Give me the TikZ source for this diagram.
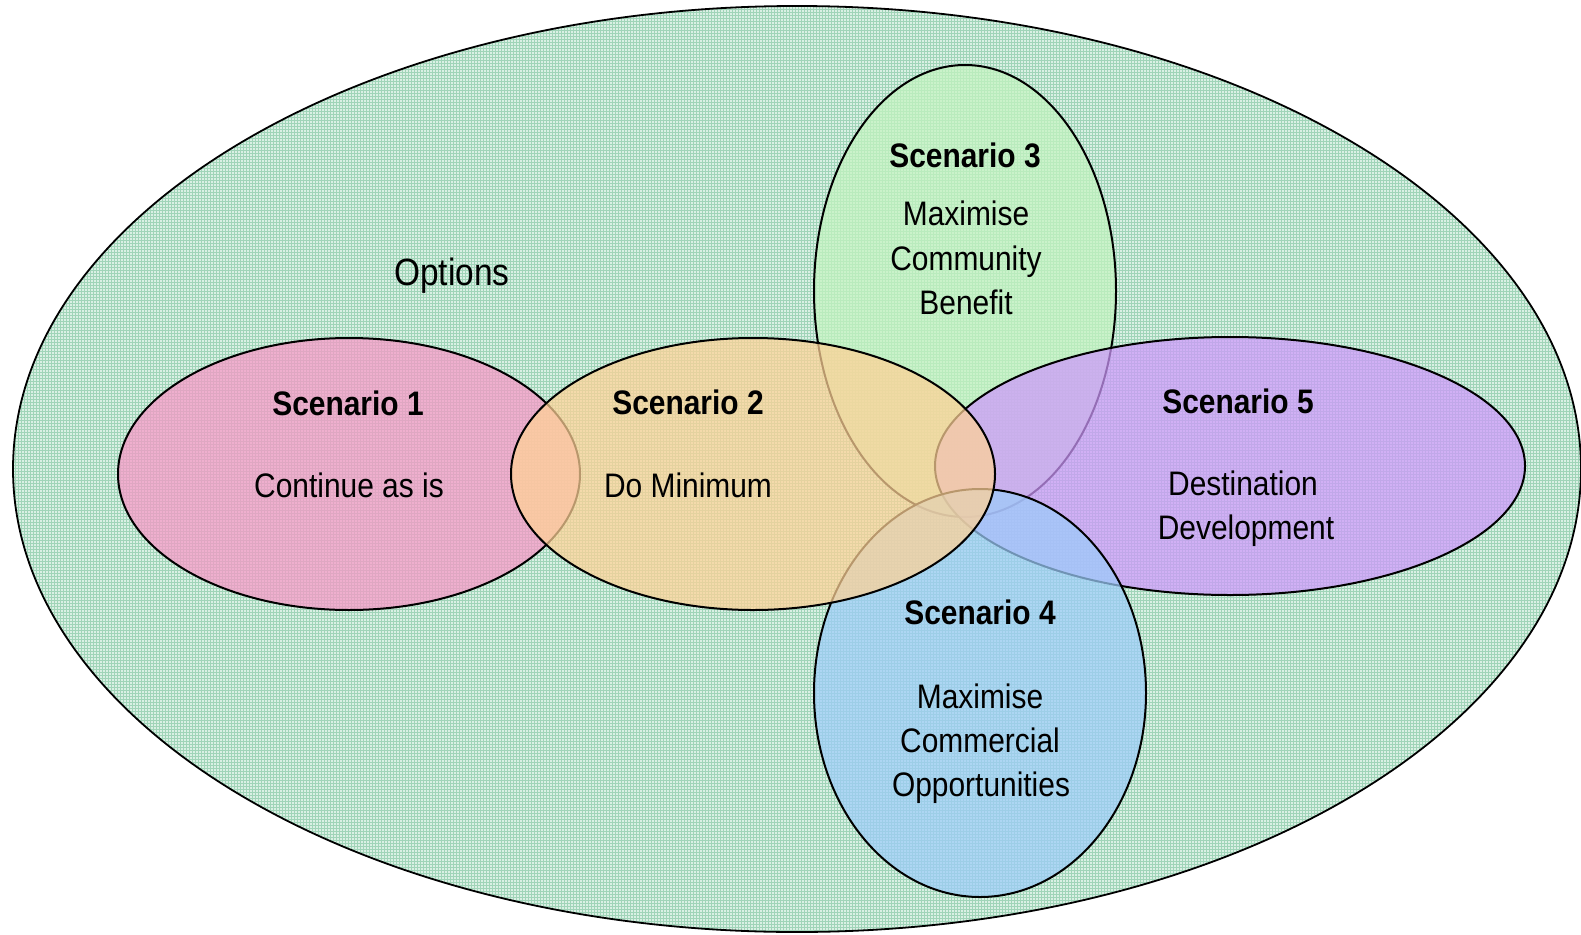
\documentclass[tikz,border=0pt]{standalone}
\usepackage{fontspec}
\setmainfont{Liberation Sans}[FakeStretch=0.88]
\definecolor{optbg}{RGB}{218,240,228}
\definecolor{optgrid}{RGB}{160,212,184}
\definecolor{cone}{RGB}{248,150,198}
\definecolor{ctwo}{RGB}{255,210,150}
\definecolor{cthree}{RGB}{196,244,192}
\definecolor{cfive}{RGB}{206,152,252}
\definecolor{cfour}{RGB}{156,204,250}
\tikzset{
  scen/.style={draw=black, line width=2pt, fill opacity=0.72, draw opacity=1},
  lbl/.style={inner sep=0pt, anchor=base, font=\fontsize{34}{44}\selectfont},
  hdr/.style={inner sep=0pt, anchor=base, font=\fontsize{34}{44}\selectfont\bfseries},
}
\begin{document}
\begin{tikzpicture}[x=1pt,y=-1pt]
\useasboundingbox (0,0) rectangle (1581,934);
% Options ellipse with textured fill
\begin{scope}
  \clip (797,469) ellipse [x radius=784pt, y radius=463pt];
  \fill[optbg] (0,0) rectangle (1581,934);
  \draw[optgrid, line width=0.5pt, step=3pt] (0,0) grid (1581,934);
\end{scope}
\draw[line width=1.8pt] (797,469) ellipse [x radius=784pt, y radius=463pt];
\node[inner sep=0pt, anchor=base, font=\fontsize{38}{44}\selectfont] (opt) at (452,285) {Options};
% scenarios (draw order matters)
\draw[scen, fill=cone]   (349,474) ellipse [x radius=231pt, y radius=136pt];
\draw[scen, fill=cthree] (965,291) ellipse [x radius=151pt, y radius=226pt];
\draw[scen, fill=cfive]  (1230,466) ellipse [x radius=295pt, y radius=129pt];
\draw[scen, fill=cfour]  (980,693) ellipse [x radius=166pt, y radius=204pt];
\draw[scen, fill=ctwo]   (753,474) ellipse [x radius=242pt, y radius=136pt];
% labels
\node[hdr] (h1) at (348,415) {Scenario 1};
\node[lbl] (t1) at (349,497) {Continue as is};
\node[hdr] (h2) at (688,414) {Scenario 2};
\node[lbl] (t2) at (688,497) {Do Minimum};
\node[hdr] (h3) at (965,167) {Scenario 3};
\node[lbl] (t3a) at (966,225) {Maximise};
\node[lbl] (t3b) at (966,270) {Community};
\node[lbl] (t3c) at (966,314) {Benefit};
\node[hdr] (h5) at (1238,413) {Scenario 5};
\node[lbl] (t5a) at (1243,495) {Destination};
\node[lbl] (t5b) at (1246,539) {Development};
\node[hdr] (h4) at (980,624) {Scenario 4};
\node[lbl] (t4a) at (980,708) {Maximise};
\node[lbl] (t4b) at (980,752) {Commercial};
\node[lbl] (t4c) at (981,796) {Opportunities};
\end{tikzpicture}
\end{document}
